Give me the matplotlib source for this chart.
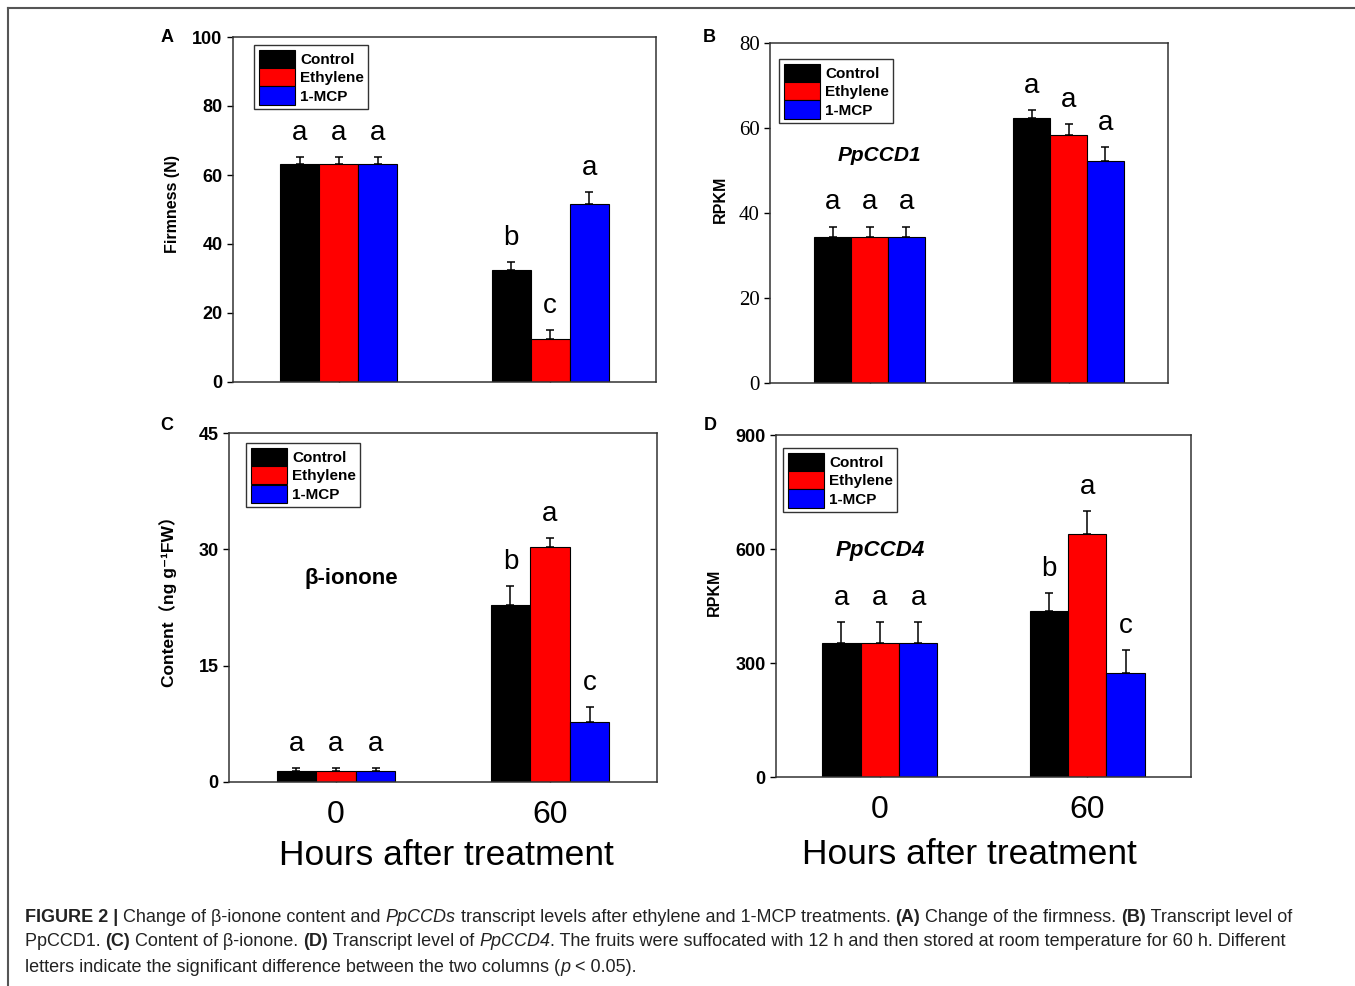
import matplotlib
matplotlib.use('Agg')
import matplotlib.pyplot as plt
from matplotlib import font_manager
from matplotlib.lines import Line2D
import numpy as np

W, H = 1355, 986

groups = ['0', '60']
series = ['Control', 'Ethylene', '1-MCP']
colors = ['#000000', '#ff0000', '#0000ff']

# A: firmness (N)
firm_mean = [[63.3, 32.5], [63.3, 12.5], [63.3, 51.5]]
firm_err = [[2.0, 2.3], [2.0, 2.5], [2.0, 3.5]]
firm_let = [['a', 'b'], ['a', 'c'], ['a', 'a']]

# B: PpCCD1 RPKM
ccd1_mean = [[34.4, 62.4], [34.4, 58.4], [34.4, 52.2]]
ccd1_err = [[2.4, 1.8], [2.4, 2.6], [2.4, 3.3]]
ccd1_let = [['a', 'a'], ['a', 'a'], ['a', 'a']]

# C: beta-ionone content
ion_mean = [[1.4, 22.8], [1.4, 30.3], [1.4, 7.8]]
ion_err = [[0.35, 2.5], [0.35, 1.2], [0.35, 1.9]]
ion_let = [['a', 'b'], ['a', 'a'], ['a', 'c']]

# D: PpCCD4 RPKM
ccd4_mean = [[353, 438], [353, 640], [353, 275]]
ccd4_err = [[54, 47], [54, 60], [54, 58]]
ccd4_let = [['a', 'b'], ['a', 'a'], ['a', 'c']]

SANS = 'Liberation Sans'
try:
    font_manager.findfont('Liberation Sans Narrow', fallback_to_default=False)
    CAP = 'Liberation Sans Narrow'
except ValueError:
    CAP = 'Liberation Sans'

plt.rcParams['font.family'] = SANS

fig = plt.figure(figsize=(W / 100, H / 100), dpi=100)


def ax_at(l, r, t, b):
    return fig.add_axes([l / W, 1 - b / H, (r - l) / W, (b - t) / H])


def panel(ax, mean, err, lets, ymax, step, ylabel, labxy, legpos,
          tickfont=None, tickbold=True, ticksize=13, labsize=11.5):
    x = np.arange(len(groups))
    w = 0.185
    for i, s in enumerate(series):
        xs = x + (i - 1) * w
        ax.bar(xs, mean[i], w, color=colors[i], edgecolor='black',
               linewidth=0.8, label=s, zorder=2)
        ax.errorbar(xs, mean[i], yerr=[np.zeros(len(groups)), err[i]],
                    fmt='none', ecolor='black', elinewidth=1.1, capsize=3,
                    capthick=1.1, zorder=3)
        for j in range(len(groups)):
            ax.annotate(lets[i][j], (xs[j], mean[i][j] + err[i][j]),
                        xytext=(0, 8), textcoords='offset points',
                        ha='center', va='bottom', fontsize=20)
    ax.set_xlim(-0.5, 1.5)
    ax.set_ylim(0, ymax)
    ax.set_yticks(np.arange(0, ymax + 1, step))
    ax.set_xticks(x)
    ax.set_xticklabels([])
    ax.tick_params(axis='x', direction='in', length=6, width=1)
    ax.tick_params(axis='y', direction='out', length=4, width=1)
    for lab in ax.get_yticklabels():
        lab.set_fontsize(ticksize)
        if tickfont:
            lab.set_family(tickfont)
        if tickbold:
            lab.set_fontweight('bold')
    for sp in ax.spines.values():
        sp.set_linewidth(1.1)
        sp.set_color('#333333')
    ax.set_ylabel(ylabel, fontsize=labsize, fontweight='bold',
                  family=[SANS, 'DejaVu Sans', 'Noto Sans CJK SC'])
    ax.yaxis.set_label_coords(*labxy)
    leg = ax.legend(loc='upper left', bbox_to_anchor=legpos, borderaxespad=0,
                    fancybox=False, edgecolor='#333333', framealpha=1,
                    prop={'family': SANS, 'weight': 'bold', 'size': 11},
                    handlelength=2.4, handleheight=1.45, labelspacing=0.02,
                    handletextpad=0.3, borderpad=0.3)
    leg.get_frame().set_linewidth(1.0)


axA = ax_at(233, 656, 37, 382)
panel(axA, firm_mean, firm_err, firm_let, 100, 20, 'Firmness (N)',
      (-0.125, 0.515), (0.05, 0.977))

axB = ax_at(770, 1168, 43, 383)
panel(axB, ccd1_mean, ccd1_err, ccd1_let, 80, 20, 'RPKM', (-0.105, 0.54),
      (0.023, 0.953), tickfont='Liberation Serif', tickbold=False,
      ticksize=15)
axB.text(0.05, 53.5, 'PpCCD1', ha='center', va='center', fontsize=15,
         fontweight='bold', style='italic')

axC = ax_at(229, 657, 433, 782)
panel(axC, ion_mean, ion_err, ion_let, 45, 15,
      'Content\uff08ng g\u207b\u00b9FW\uff09', (-0.122, 0.53), (0.04, 0.971),
      labsize=12.5)
axC.text(0.07, 26.3, '\u03b2-ionone', ha='center', va='center', fontsize=16,
         fontweight='bold')

axD = ax_at(776, 1191, 435, 777)
panel(axD, ccd4_mean, ccd4_err, ccd4_let, 900, 300, 'RPKM', (-0.13, 0.54),
      (0.017, 0.962))
axD.text(0.0, 597, 'PpCCD4', ha='center', va='center', fontsize=16,
         fontweight='bold', style='italic')

for ax, ly in ((axC, -0.21), (axD, -0.228)):
    ax.set_xticklabels(groups, fontsize=23)
    ax.tick_params(axis='x', pad=13)
    ax.set_xlabel('Hours after treatment', fontsize=25.5, va='center')
    ax.xaxis.set_label_coords(0.507 if ax is axC else 0.465, ly)

for txt, px, py in (('A', 167, 37), ('B', 709, 38), ('C', 167, 426),
                    ('D', 710, 426)):
    fig.text(px / W, 1 - py / H, txt, ha='center', va='center', fontsize=13,
             fontweight='bold')

# frame around figure
fig.add_artist(Line2D([8 / W, 8 / W], [1 - 8 / H, 0], color='#555555', lw=1.5))
fig.add_artist(Line2D([8 / W, 1], [1 - 8 / H, 1 - 8 / H], color='#555555', lw=1.5))

# caption with mixed styles
cap_lines = [
    [('FIGURE 2 |', 'bold'), (' Change of \u03b2-ionone content and ', 'normal'),
     ('PpCCDs', 'italic'),
     (' transcript levels after ethylene and 1-MCP treatments. ', 'normal'),
     ('(A)', 'bold'), (' Change of the firmness. ', 'normal'), ('(B)', 'bold'),
     (' Transcript level of', 'normal')],
    [('PpCCD1. ', 'normal'), ('(C)', 'bold'), (' Content of \u03b2-ionone. ', 'normal'),
     ('(D)', 'bold'), (' Transcript level of ', 'normal'), ('PpCCD4', 'italic'),
     ('. The fruits were suffocated with 12 h and then stored at room temperature for 60 h. Different', 'normal')],
    [('letters indicate the significant difference between the two columns (', 'normal'),
     ('p', 'italic'), (' < 0.05).', 'normal')],
]
cap_y = [917, 942, 968]

renderer = fig.canvas.get_renderer()


def seg_width(s, style, size):
    kw = dict(fontsize=size, family=CAP)
    if style == 'bold':
        kw['fontweight'] = 'bold'
    if style == 'italic':
        kw['style'] = 'italic'
    t1 = fig.text(0, 0, '|' + s + '|', **kw)
    t2 = fig.text(0, 0, '||', **kw)
    wd = t1.get_window_extent(renderer).width - t2.get_window_extent(renderer).width
    t1.remove()
    t2.remove()
    return wd, kw


base = 12
total = sum(seg_width(s, st, base)[0] for s, st in cap_lines[0])
size = base * (1297 - 25) / total

for line, py in zip(cap_lines, cap_y):
    px = 25
    for s, st in line:
        wd, kw = seg_width(s, st, size)
        fig.text(px / W, 1 - py / H, s, ha='left', va='center', color='#222222', **kw)
        px += wd

fig.savefig('out.png', dpi=100)
